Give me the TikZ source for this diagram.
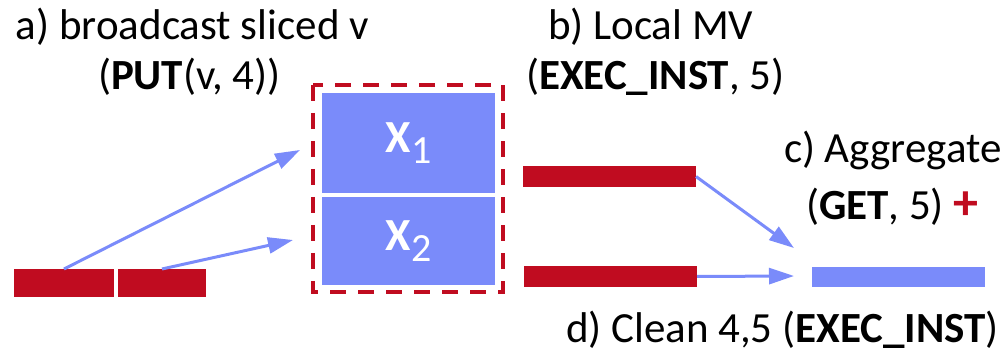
\documentclass[tikz,border=0pt]{standalone}
\usepackage{fontspec}
\setmainfont{Carlito}
\usetikzlibrary{arrows.meta}
\definecolor{barred}{RGB}{192,12,32}
\definecolor{vecblue}{RGB}{122,139,250}

\begin{document}
\begin{tikzpicture}[x=1pt,y=-1pt,
  every node/.style={inner sep=0pt, outer sep=0pt},
  redbar/.style={fill=barred, anchor=north west},
  bluebar/.style={fill=vecblue, anchor=north west},
  block/.style={fill=vecblue, anchor=north west, minimum width=173pt,
                text=white, font=\fontsize{46}{46}\selectfont\bfseries},
  label/.style={anchor=base west, font=\fontsize{43}{47}\selectfont},
  flow/.style={vecblue, line width=3pt, -{Triangle[length=25pt,width=16pt]}},
  frame/.style={barred, line width=3.5pt, dash pattern=on 16pt off 12pt}
]
\useasboundingbox (0,0) rectangle (1005,355);

% sliced vector v
\node[redbar, minimum width=100pt, minimum height=28pt] (v1) at (14,269) {};
\node[redbar, minimum width=88pt, minimum height=28pt] (v2) at (118,269) {};

% matrix blocks on the node
\draw[frame] (313,85) rectangle (503,292);
\node[block, minimum height=100pt] (x1) at (322,93)
  {X\raisebox{-11pt}{\fontsize{40}{40}\selectfont\mdseries 1}};
\node[block, minimum height=88pt] (x2) at (322,197)
  {X\raisebox{-11pt}{\fontsize{40}{40}\selectfont\mdseries 2}};

\coordinate (in1) at (300,150);
\coordinate (in2) at (293,240);
\draw[flow] (v1.north) -- (in1);
\draw[flow] (v2.north) -- (in2);

% local products
\node[redbar, minimum width=173pt, minimum height=21pt] (p1) at (523,166) {};
\node[redbar, minimum width=173pt, minimum height=21pt] (p2) at (524,266) {};

% aggregated result
\node[bluebar, minimum width=173pt, minimum height=20pt] (res) at (812,267) {};

\coordinate (agg1) at (794,248);
\coordinate (agg2) at (794,276);
\draw[flow] (p1.east) -- (agg1);
\draw[flow] (p2.east) -- (agg2);

% step labels
\node[label] (la1) at (16,40) {a) broadcast sliced v};
\node[label] (la2) at (98,90) {(\textbf{PUT}(v, 4))};
\node[label] (lb1) at (548,40) {b) Local MV};
\node[label] (lb2) at (526,90) {(\textbf{EXEC\_INST}, 5)};
\node[label] (lc1) at (784,163) {c) Aggregate};
\node[label] (lc2) at (806,220)
  {(\textbf{GET}, 5) {\fontsize{50}{50}\selectfont\color{barred}\textbf{+}}};
\node[label] (ld) at (566,343) {d) Clean 4,5 (\textbf{EXEC\_INST})};
\end{tikzpicture}
\end{document}
